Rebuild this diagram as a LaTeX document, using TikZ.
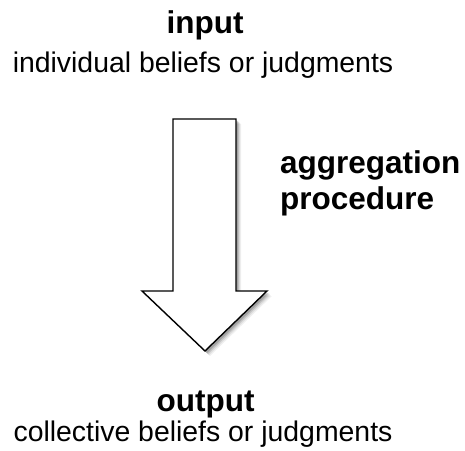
\documentclass[tikz,border=0pt]{standalone}
\usepackage{fontspec}
\setmainfont{Liberation Sans}
\begin{document}
\begin{tikzpicture}[x=1pt,y=1pt,
  boldtxt/.style={font=\fontsize{31.5}{36}\selectfont\bfseries, inner sep=0pt},
  regtxt/.style={font=\fontsize{28.4}{34}\selectfont, inner sep=0pt},
  arrowline/.style={draw=black, line width=1.4pt, fill=white, line join=miter}]
\useasboundingbox (0,0) rectangle (465,450);
% text
\node[boldtxt, anchor=base] (in) at (205,416.5) {input};
\node[regtxt, anchor=base] (indiv) at (203,377) {individual beliefs or judgments};
\node[boldtxt, anchor=base west] (agg) at (280,276.5) {aggregation};
\node[boldtxt, anchor=base west] (proc) at (280,240.5) {procedure};
\node[boldtxt, anchor=base] (out) at (205.5,38.5) {output};
\node[regtxt, anchor=base] (coll) at (203,9) {collective beliefs or judgments};
% shadow
\foreach \d/\o in {5/0.06,4/0.08,3/0.12,2/0.16}{
  \fill[black, opacity=\o, shift={(\d,-\d)}]
    (173,331) -- (236,331) -- (236,159) -- (267,159) -- (205,99) -- (142,159) -- (173,159) -- cycle;
}
% arrow
\draw[arrowline]
  (173,331) -- (236,331) -- (236,159) -- (267,159) -- (205,99) -- (142,159) -- (173,159) -- cycle;
\end{tikzpicture}
\end{document}
